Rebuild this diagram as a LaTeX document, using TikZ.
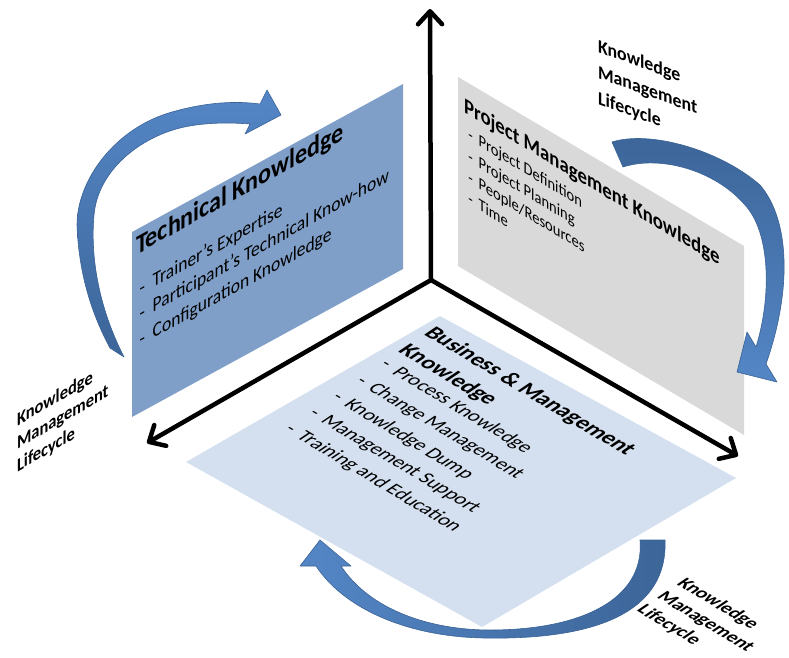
\documentclass[tikz,border=0pt]{standalone}
\usepackage{fontspec}
\setmainfont{Carlito}
\usetikzlibrary{arrows.meta}
\definecolor{techblue}{HTML}{7F9FC8}
\definecolor{pmgray}{HTML}{D9D9D9}
\definecolor{bizblue}{HTML}{D4E0EF}
\definecolor{arrlight}{HTML}{5486C6}
\definecolor{arrdark}{HTML}{3C6598}
\definecolor{arredge}{HTML}{3A6296}
\begin{document}
\begin{tikzpicture}[x=1pt,y=1pt,
  axis/.style={line width=4.5pt, line cap=round, -{Straight Barb[length=13pt,width=24pt,round]}},
  curvarrow/.style={draw=arredge, line width=0.6pt, line join=round},
  txt/.style={inner sep=0pt, outer sep=0pt, transform shape, anchor=base west, text=black},
  ttl/.style={txt, font=\bfseries\fontsize{27.5}{31}\selectfont},
  itm/.style={txt, font=\fontsize{20}{24}\selectfont},
  pttl/.style={txt, font=\bfseries\fontsize{22}{26}\selectfont},
  pitm/.style={txt, font=\fontsize{17}{20}\selectfont},
  bttl/.style={txt, font=\bfseries\fontsize{23}{27}\selectfont},
  bitm/.style={txt, font=\fontsize{20}{24}\selectfont},
  lbl/.style={txt, font=\bfseries\fontsize{19}{22}\selectfont},
]
\useasboundingbox (0,0) rectangle (789,-657);

% panels
\fill[techblue] (132,-232) -- (403,-84) -- (403,-269) -- (132,-417) -- cycle;
\fill[pmgray] (458,-77) -- (744,-246) -- (744,-435) -- (458,-266) -- cycle;
\fill[bizblue] (440,-316) -- (736,-478) -- (482,-627) -- (186,-462) -- cycle;

% axes
\coordinate (O) at (431,-280);
\coordinate (U) at (430,-9);
\coordinate (L) at (147,-443);
\coordinate (R) at (738,-456);
\draw[axis] (O) -- (U);
\draw[axis] (O) -- (L);
\draw[axis] (O) -- (R);

% curved arrows
\draw[curvarrow, top color=arrlight, bottom color=arrdark]
  (110,-348) .. controls (95,-320) and (79,-280) .. (77,-225)
  .. controls (77,-180) and (115,-128) .. (172,-112)
  .. controls (200,-104) and (230,-100) .. (260,-104)
  -- (267,-90) -- (281,-115) -- (245,-134) -- (250,-124)
  .. controls (225,-122) and (200,-123) .. (180,-128)
  .. controls (140,-138) and (98,-170) .. (94,-215)
  .. controls (90,-260) and (100,-310) .. (124,-357) -- cycle;

\draw[curvarrow, top color=arrdark, bottom color=arrlight]
  (612,-142) .. controls (650,-130) and (720,-150) .. (760,-185)
  .. controls (790,-220) and (792,-290) .. (766,-364)
  -- (777,-382) -- (737,-372) -- (747,-332) -- (756,-347)
  .. controls (772,-295) and (770,-232) .. (745,-205)
  .. controls (715,-170) and (660,-155) .. (623,-167) -- cycle;

\draw[curvarrow, left color=arrlight, right color=arrdark]
  (640,-540) -- (665,-540) .. controls (668,-610) and (600,-640) .. (485,-638)
  .. controls (410,-637) and (345,-610) .. (316,-566)
  -- (300,-566) -- (320,-540) -- (351,-566) -- (341,-566)
  .. controls (370,-610) and (430,-630) .. (490,-630)
  .. controls (580,-630) and (645,-600) .. (640,-540) -- cycle;

% technical panel text
\begin{scope}[shift={(136,-255)}, cm={0.875,0.485,0,1,(0,0)}]
  \node[ttl] (tk0) at (0,0) {Technical Knowledge};
  \node[itm] (tk1) at (4,-42) {-\hspace{0.45em}Trainer’s Expertise};
  \node[itm] (tk2) at (4,-67) {-\hspace{0.45em}Participant’s Technical Know-how};
  \node[itm] (tk3) at (4,-93) {-\hspace{0.45em}Configuration Knowledge};
\end{scope}

% project management panel text
\begin{scope}[shift={(464,-112)}, cm={0.857,-0.515,0,1,(0,0)}]
  \node[pttl] (pm0) at (0,0) {Project Management Knowledge};
  \node[pitm] (pm1) at (5,-25) {-\hspace{0.4em}Project Definition};
  \node[pitm] (pm2) at (5,-47) {-\hspace{0.4em}Project Planning};
  \node[pitm] (pm3) at (5,-68) {-\hspace{0.4em}People/Resources};
  \node[pitm] (pm4) at (5,-89) {-\hspace{0.4em}Time};
\end{scope}

% business panel text
\begin{scope}[shift={(423,-334)}, cm={0.857,-0.515,0.83,0.56,(0,0)}]
  \node[bttl] (bm0) at (0,0) {Business \& Management};
  \node[bttl] (bm1) at (0,-31) {Knowledge};
  \node[bitm] (bm2) at (2,-55) {-\hspace{0.4em}Process Knowledge};
  \node[bitm] (bm3) at (2,-84) {-\hspace{0.4em}Change Management};
  \node[bitm] (bm4) at (2,-113) {-\hspace{0.4em}Knowledge Dump};
  \node[bitm] (bm5) at (2,-141) {-\hspace{0.4em}Management Support};
  \node[bitm] (bm6) at (2,-170) {-\hspace{0.4em}Training and Education};
\end{scope}

% lifecycle labels
\begin{scope}[shift={(598,-52)}, cm={0.94,-0.342,0,1,(0,0)}]
  \node[lbl] (tr0) at (0,0) {Knowledge};
  \node[lbl] (tr1) at (0,-26) {Management};
  \node[lbl] (tr2) at (0,-52) {Lifecycle};
\end{scope}
\begin{scope}[shift={(17,-426)}, cm={0.866,0.5,0,1,(0,0)}]
  \node[lbl] (lf0) at (0,0) {Knowledge};
  \node[lbl] (lf1) at (0,-23) {Management};
  \node[lbl] (lf2) at (0,-46) {Lifecycle};
\end{scope}
\begin{scope}[shift={(676,-584)}, cm={0.857,-0.515,0.83,0.56,(0,0)}]
  \node[lbl] (br0) at (0,0) {Knowledge};
  \node[lbl] (br1) at (0,-24) {Management};
  \node[lbl] (br2) at (0,-48) {Lifecycle};
\end{scope}
\end{tikzpicture}
\end{document}
